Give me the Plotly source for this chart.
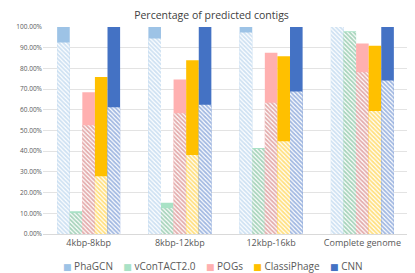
import plotly.graph_objects as go

categories = ["4kbp-8kbp", "8kbp-12kbp", "12kbp-16kb", "Complete genome"]
methods = ["PhaGCN", "vConTACT2.0", "POGs", "ClassiPhage", "CNN"]

# total predicted (solid) and correctly predicted (hatched), in %
predicted = {
    "PhaGCN":      [100.0, 100.0, 100.0, 100.0],
    "vConTACT2.0": [11.0, 15.1, 41.6, 97.9],
    "POGs":        [68.5, 74.6, 87.6, 92.0],
    "ClassiPhage": [75.9, 83.9, 85.9, 90.9],
    "CNN":         [100.0, 100.0, 100.0, 100.0],
}
correct = {
    "PhaGCN":      [92.5, 94.5, 97.3, 100.0],
    "vConTACT2.0": [10.1, 12.5, 41.1, 97.5],
    "POGs":        [52.5, 58.3, 63.4, 78.2],
    "ClassiPhage": [27.9, 38.2, 44.8, 59.4],
    "CNN":         [61.2, 62.4, 68.9, 74.2],
}

solid_colors = {
    "PhaGCN": "#9DC3E6",
    "vConTACT2.0": "#A9E2C6",
    "POGs": "#FFB0B0",
    "ClassiPhage": "#FFC000",
    "CNN": "#4472C4",
}
hatch_colors = {
    "PhaGCN": "#9DC3E6",
    "vConTACT2.0": "#4FA878",
    "POGs": "#C85A5A",
    "ClassiPhage": "#FFC000",
    "CNN": "#4472C4",
}

fig = go.Figure()
for m in methods:
    fig.add_trace(go.Bar(
        x=categories, y=[v / 100 for v in predicted[m]], name=m,
        offsetgroup=m, marker=dict(color=solid_colors[m], line=dict(width=0)),
        showlegend=False,
    ))
    fig.add_trace(go.Bar(
        x=categories, y=[v / 100 for v in correct[m]], name=m + " correct",
        offsetgroup=m, showlegend=False,
        marker=dict(color="white", line=dict(width=0),
                    pattern=dict(shape="\\", fgcolor=hatch_colors[m], bgcolor="white",
                                 size=3, solidity=0.6)),
    ))

# compact one-row legend (Excel style) as text
legend_text = "&nbsp;&nbsp;&nbsp;&nbsp;".join(
    f"<span style='color:{solid_colors[m]};font-family:DejaVu Sans;font-size:9px'>■</span>&nbsp;{m}"
    for m in methods
)
fig.add_annotation(text=legend_text, xref="paper", yref="paper", x=0.467, y=-0.155,
                   xanchor="center", yanchor="middle", showarrow=False,
                   font=dict(size=10, color="#595959"))

# page body adds an 8px offset, so the figure is 8px smaller than the window
fig.update_layout(
    width=407, height=265,
    barmode="group", bargap=0.31, bargroupgap=0,
    paper_bgcolor="white", plot_bgcolor="white",
    margin=dict(l=35, r=7, t=19, b=39),
    font=dict(family="Open Sans, Liberation Sans, sans-serif", color="#595959"),
    title=dict(text="Percentage of predicted contigs", x=0.5, xanchor="center",
               y=0.985, yanchor="top", font=dict(size=10.5, color="#404040")),
    showlegend=False,
    yaxis=dict(range=[0, 1.0], tickformat=".2%", dtick=0.1, showgrid=True,
               gridcolor="#E3E3E3", gridwidth=1, zeroline=False,
               tickfont=dict(size=6.5, color="#595959"), ticks="", showline=False),
    xaxis=dict(showgrid=False, tickfont=dict(size=9, color="#595959"),
               showline=True, linecolor="#D9D9D9", ticks=""),
)

fig.write_html("out.html")
